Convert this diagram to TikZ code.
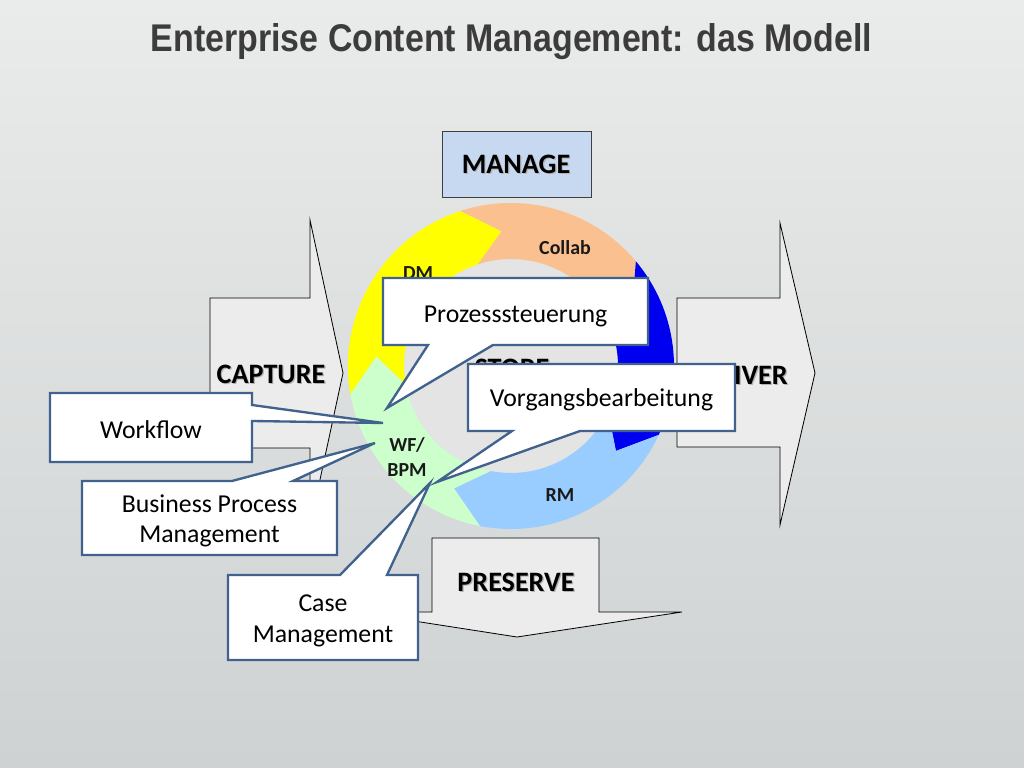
\documentclass[tikz,border=0pt]{standalone}
\usepackage{graphicx}
\usepackage{fontspec}
\setmainfont{Carlito}
\newfontfamily\titlefont{Liberation Sans}
\begin{document}
\begin{tikzpicture}[x=0.03cm,y=-0.03cm]
\definecolor{bgtop}{RGB}{234,235,235}
\definecolor{bgbot}{RGB}{206,210,210}
\definecolor{arrowfill}{RGB}{236,236,236}
\definecolor{managefill}{RGB}{198,217,241}
\definecolor{calloutline}{RGB}{64,98,140}
\definecolor{segyellow}{RGB}{255,255,0}
\definecolor{segpeach}{RGB}{250,192,144}
\definecolor{segblue}{RGB}{0,0,240}
\definecolor{seglblue}{RGB}{153,204,255}
\definecolor{seggreen}{RGB}{204,255,204}
\definecolor{innergray}{RGB}{228,228,228}
\definecolor{titlegray}{RGB}{60,60,60}
\tikzset{
  bigarrow/.style={fill=arrowfill, draw=black, line width=0.7pt, line join=miter},
  callout/.style={fill=white, draw=calloutline, line width=2pt, line join=miter},
  callouttext/.style={font=\fontsize{22}{26}\selectfont, align=center, text=black, inner sep=0pt},
  biglabel/.style={font=\fontsize{24}{28}\selectfont\bfseries, text=black, inner sep=0pt},
  bigshadow/.style={biglabel, text=black!30, xshift=0.035cm, yshift=-0.035cm},
  seglabel/.style={font=\fontsize{17}{21}\selectfont\bfseries, text=black!90, align=center, inner sep=0pt},
}
% background
\useasboundingbox (0,0) rectangle (1024,768);
\shade[top color=bgtop, bottom color=bgbot] (0,0) rectangle (1024,768);

% title
\node[anchor=base, text=titlegray, inner sep=0pt] (title) at (511.5,52)
  {\resizebox{21.63cm}{0.84cm}{\titlefont\bfseries Enterprise Content Management: das Modell}};

% big arrows
\draw[bigarrow] (210,298) -- (310,298) -- (310,220) -- (343,373) -- (310,526) -- (310,448) -- (210,448) -- cycle;
\draw[bigarrow] (677,298) -- (780,298) -- (780,223) -- (815,373) -- (780,525) -- (780,447) -- (677,447) -- cycle;
\draw[bigarrow] (432,538) -- (599,538) -- (599,612) -- (682,612) -- (517,637) -- (356,612) -- (432,612) -- cycle;

% manage box
\draw[fill=managefill, draw=black!75, line width=0.7pt] (442,131) rectangle (591,197);

% ring
\begin{scope}[shift={(511,366)}, x=0.03cm, y=0.03cm]
  \fill[innergray] (0,0) circle[radius=107];
  \foreach \s/\e/\c in {190/108/segyellow, 108/40/segpeach, 40/-25/segblue, -25/-101/seglblue, 259/190/seggreen}
    \fill[\c] (\s:163) arc[start angle=\s, end angle=\e, radius=163] -- ({\e-14}:135)
      -- (\e:107) arc[start angle=\e, end angle=\s, radius=107] -- ({\s-14}:135) -- cycle;
\end{scope}

% labels with shadows
\node[bigshadow] at (516,164) {MANAGE};
\node[biglabel] (manage) at (516,164) {MANAGE};
\node[bigshadow] at (271,374) {CAPTURE};
\node[biglabel] (capture) at (271,374) {CAPTURE};
\node[bigshadow, anchor=east] at (788,375) {DELIVER};
\node[biglabel, anchor=east] (deliver) at (788,375) {DELIVER};
\node[bigshadow] at (512,368) {STORE};
\node[biglabel] (store) at (512,368) {STORE};
\node[bigshadow] at (516,582) {PRESERVE};
\node[biglabel] (preserve) at (516,582) {PRESERVE};

\node[seglabel] (dm) at (418,273) {DM};
\node[seglabel] (collab) at (565,248) {Collab};
\node[seglabel] (rm) at (560,495) {RM};
\node[seglabel] (wfbpm) at (407,457) {WF/\\BPM};

% callouts
\draw[callout] (383,278) -- (648,278) -- (648,345) -- (493,345) -- (387,408) -- (428,345) -- (383,345) -- cycle;
\node[callouttext] (c1) at (515.5,316) {Prozesssteuerung};

\draw[callout] (468,364) -- (735,364) -- (735,431) -- (580,431) -- (437,482) -- (512,431) -- (468,431) -- cycle;
\node[callouttext] (c2) at (601.5,400) {Vorgangsbearbeitung};

\draw[callout] (50,393) -- (252,393) -- (252,405) -- (383,423) -- (252,421) -- (252,462) -- (50,462) -- cycle;
\node[callouttext] (c3) at (151,430) {Workflow};

\draw[callout] (82,481) -- (232,481) -- (375,443) -- (293,481) -- (337,481) -- (337,555) -- (82,555) -- cycle;
\node[callouttext] (c4) at (209.5,521) {Business Process\\Management};

\draw[callout] (228,575) -- (340,575) -- (430,483) -- (387,575) -- (418,575) -- (418,660) -- (228,660) -- cycle;
\node[callouttext] (c5) at (323,621) {Case\\Management};
\end{tikzpicture}
\end{document}
